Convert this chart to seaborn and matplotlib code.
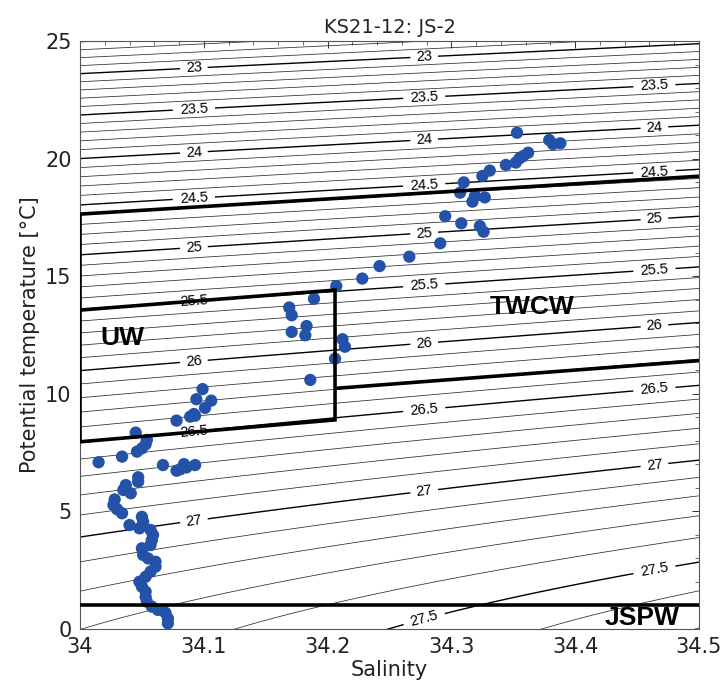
import numpy as np
import pandas as pd
import matplotlib
matplotlib.use("Agg")
import matplotlib.pyplot as plt
import seaborn as sns
from matplotlib.ticker import MultipleLocator

# ---------------- data ----------------
salinity = [
    34.353, 34.379, 34.382, 34.388, 34.362, 34.358, 34.355, 34.352, 34.344, 34.331,
    34.325, 34.310, 34.307, 34.319, 34.327, 34.317, 34.295, 34.308, 34.323, 34.326,
    34.291, 34.266, 34.242, 34.228, 34.207, 34.189, 34.169, 34.171, 34.183, 34.171,
    34.182, 34.212, 34.214, 34.206, 34.186,
    34.099, 34.094, 34.106, 34.101, 34.092, 34.089, 34.093, 34.078, 34.045, 34.054,
    34.053, 34.050, 34.046, 34.034, 34.015, 34.067, 34.078, 34.084, 34.086, 34.093,
    34.081, 34.047, 34.047, 34.037, 34.035, 34.041, 34.028, 34.027, 34.030, 34.034,
    34.040, 34.050, 34.051, 34.048, 34.057, 34.059, 34.058, 34.057, 34.050, 34.051,
    34.055, 34.061, 34.061, 34.057, 34.053, 34.048, 34.050, 34.053, 34.053, 34.054,
    34.058, 34.063, 34.069, 34.071, 34.071,
]
temperature = [
    21.10, 20.79, 20.62, 20.65, 20.25, 20.11, 20.01, 19.83, 19.73, 19.49,
    19.26, 18.99, 18.55, 18.41, 18.35, 18.17, 17.55, 17.25, 17.13, 16.89,
    16.40, 15.83, 15.43, 14.90, 14.58, 14.04, 13.67, 13.34, 12.88, 12.63,
    12.49, 12.32, 12.00, 11.49, 10.59,
    10.20, 9.77, 9.71, 9.40, 9.14, 9.03, 9.07, 8.86, 8.35, 8.04,
    7.85, 7.68, 7.54, 7.33, 7.09, 6.97, 6.73, 7.01, 6.87, 6.97,
    6.79, 6.45, 6.26, 6.12, 5.91, 5.77, 5.51, 5.27, 5.09, 4.92,
    4.42, 4.77, 4.56, 4.28, 4.21, 4.00, 3.78, 3.57, 3.43, 3.15,
    3.00, 2.86, 2.65, 2.44, 2.22, 2.01, 1.80, 1.59, 1.37, 1.16,
    0.95, 0.81, 0.69, 0.45, 0.24,
]

# water-mass boundaries (salinity, temperature)
twcw_top_S = [34.0, 34.5]
twcw_top_T = [17.64, 19.25]
uw_S = [34.0, 34.206, 34.206, 34.0, 34.0]
uw_T = [13.56, 14.41, 8.89, 7.96, 17.64]
twcw_low_S = [34.206, 34.5]
twcw_low_T = [10.23, 11.41]
jspw_S = [34.0, 34.5]
jspw_T = [1.0, 1.0]

water_masses = ["UW", "TWCW", "JSPW"]
wm_S = [34.034, 34.365, 34.454]
wm_T = [12.36, 13.70, 0.47]

label_levels = [23.0, 23.5, 24.0, 24.5, 25.0, 25.5, 26.0, 26.5, 27.0, 27.5]
label_S = [34.092, 34.278, 34.464]

x_ticks = [34.0, 34.1, 34.2, 34.3, 34.4, 34.5]
x_ticklabels = ["34", "34.1", "34.2", "34.3", "34.4", "34.5"]
y_ticks = [0, 5, 10, 15, 20, 25]


# ---------------- sigma-theta (UNESCO EOS-80 at p = 0) ----------------
def sigma_theta(S, T):
    rw = (999.842594 + 6.793952e-2 * T - 9.095290e-3 * T**2 + 1.001685e-4 * T**3
          - 1.120083e-6 * T**4 + 6.536332e-9 * T**5)
    a = 0.824493 - 4.0899e-3 * T + 7.6438e-5 * T**2 - 8.2467e-7 * T**3 + 5.3875e-9 * T**4
    b = -5.72466e-3 + 1.0227e-4 * T - 1.6546e-6 * T**2
    c = 4.8314e-4
    return rw + a * S + b * S**1.5 + c * S**2 - 1000.0


sns.set_theme(style="white")
plt.rcParams["font.family"] = ["DejaVu Sans"]

fig = plt.figure(figsize=(7.25, 6.95), dpi=100)
ax = fig.add_axes([80 / 725, 1 - 629 / 695, 619 / 725, 588 / 695])

# density contours
Sg = np.linspace(33.99, 34.51, 300)
Tg = np.linspace(-0.5, 26, 400)
SS, TT = np.meshgrid(Sg, Tg)
SIG = sigma_theta(SS, TT)
levels = np.round(np.arange(22.0, 28.0, 0.1), 1)
minor_levels = [l for l in levels if l not in label_levels]
ax.contour(SS, TT, SIG, levels=minor_levels, colors="#2a2a2a", linewidths=0.55, zorder=1)
cs = ax.contour(SS, TT, SIG, levels=label_levels, colors="black", linewidths=1.0, zorder=1)

Tfine = np.linspace(-0.5, 26, 4000)
manual = []
for lev in label_levels:
    for s in label_S:
        sig = sigma_theta(s, Tfine)
        t = np.interp(lev, sig[::-1], Tfine[::-1])
        if 0.3 < t < 24.7:
            manual.append((s, t))
labels = ax.clabel(cs, inline=True, inline_spacing=4, fontsize=10.5, fmt="%g", manual=manual)
for t in labels:
    t.set_family("Liberation Sans")

# data points
df = pd.DataFrame({"Salinity": salinity, "Temperature": temperature})
sns.scatterplot(data=df, x="Salinity", y="Temperature", ax=ax, color="#2352a8",
                s=78, edgecolor="none", zorder=3, legend=False)

# water mass boxes
lw_box = 2.6
ax.plot(twcw_top_S, twcw_top_T, color="black", lw=lw_box, zorder=4, solid_capstyle="butt")
ax.plot(uw_S, uw_T, color="black", lw=lw_box, zorder=4, solid_joinstyle="miter")
ax.plot(twcw_low_S, twcw_low_T, color="black", lw=lw_box, zorder=4, solid_capstyle="butt")
ax.plot(jspw_S, jspw_T, color="black", lw=lw_box, zorder=4, solid_capstyle="butt")

for name, s, t in zip(water_masses, wm_S, wm_T):
    ax.text(s, t, name, fontsize=19, fontweight="bold", family="Liberation Sans",
            ha="center", va="center", zorder=5, color="black")

ax.set_xlim(34.0, 34.5)
ax.set_ylim(0, 25)
ax.set_xticks(x_ticks)
ax.set_xticklabels(x_ticklabels)
ax.set_yticks(y_ticks)
ax.xaxis.set_minor_locator(MultipleLocator(0.02))
ax.yaxis.set_minor_locator(MultipleLocator(1))
ax.tick_params(axis="both", which="major", direction="in", length=5, width=0.7,
               labelsize=15, colors="#333333", top=True, right=True, pad=6)
ax.tick_params(axis="both", which="minor", direction="in", length=3, width=0.6,
               top=True, right=True, colors="#555555")
ax.tick_params(axis="both", labelcolor="#222222")
for sp in ax.spines.values():
    sp.set_color("#555555")
    sp.set_linewidth(0.8)

ax.set_xlabel("Salinity", fontsize=15, color="#222222", labelpad=2)
ax.set_ylabel("Potential temperature [°C]", fontsize=15, color="#222222", labelpad=4)
ax.set_title("KS21-12: JS-2", fontsize=14, color="#222222", pad=6)

fig.savefig("out.png", dpi=100)
